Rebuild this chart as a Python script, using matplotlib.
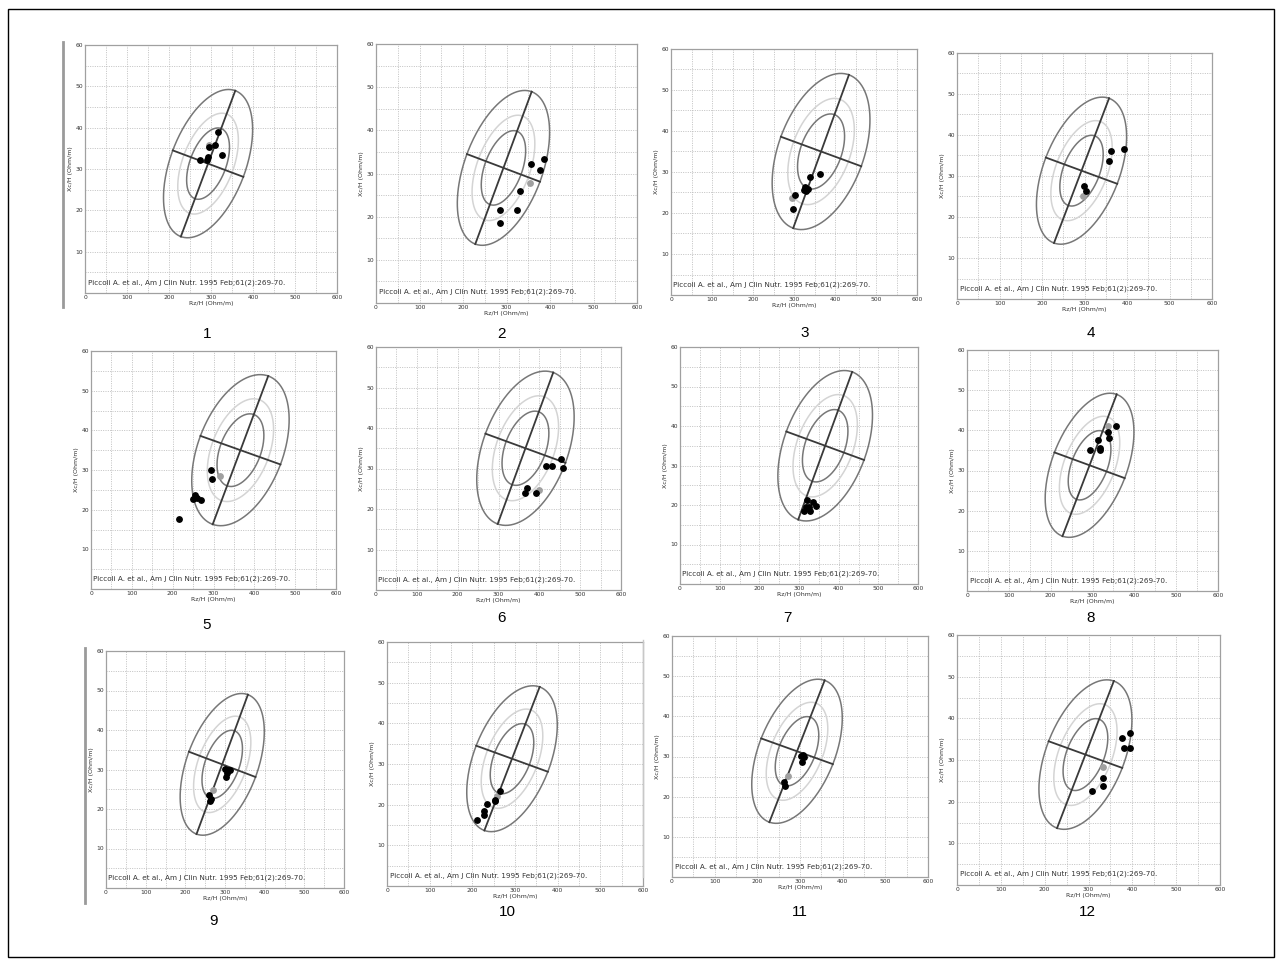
import numpy as np
import matplotlib
matplotlib.use('Agg')
import matplotlib.pyplot as plt
from matplotlib.patches import Rectangle
from matplotlib.lines import Line2D

# ---------------- data ----------------
# reference 95% tolerance ellipses: centre and conjugate half-axes (data units)
refA_center = [293.0, 31.3]
refA_major = [64.8, 17.65]
refA_minor = [84.0, -3.2]
refB_center = [366.0, 35.0]
refB_major = [68.0, 18.7]
refB_minor = [98.0, -3.6]
tolerance_levels = [0.95, 0.75, 0.50]

panel_labels = ['1', '2', '3', '4', '5', '6', '7', '8', '9', '10', '11', '12']
panel_reference = ['A', 'A', 'B', 'A', 'B', 'B', 'B', 'A', 'A', 'A', 'A', 'A']

citation = 'Piccoli A. et al., Am J Clin Nutr. 1995 Feb;61(2):269-70.'
x_label = 'Rz/H (Ohm/m)'
y_label = 'Xc/H (Ohm/m)'
x_ticks = [0, 100, 200, 300, 400, 500, 600]
y_ticks = [10, 20, 30, 40, 50, 60]

# measured points (R/H, Xc/H) per panel, black dots
p1_r = [316, 310, 295, 292, 290, 274, 326]
p1_x = [38.9, 35.9, 35.3, 32.8, 32.2, 32.2, 33.3]
p2_r = [387, 356, 378, 330, 286, 323, 284]
p2_x = [33.4, 32.3, 30.7, 25.9, 21.5, 21.5, 18.5]
p3_r = [363, 339, 327, 330, 325, 335, 302, 297]
p3_x = [29.5, 28.9, 26.4, 25.4, 25.6, 25.8, 24.4, 21.0]
p4_r = [392, 363, 357, 298, 304]
p4_x = [36.7, 36.2, 33.6, 27.5, 26.3]
p5_r = [294, 296, 255, 251, 260, 270, 216]
p5_x = [29.9, 27.8, 23.7, 22.7, 22.9, 22.5, 17.7]
p6_r = [454, 458, 416, 430, 371, 365, 393]
p6_x = [32.3, 30.1, 30.7, 30.7, 25.3, 24.0, 24.0]
p7_r = [321, 336, 318, 326, 343, 313, 328]
p7_x = [21.2, 20.8, 19.5, 19.5, 19.7, 18.6, 18.5]
p8_r = [355, 337, 340, 313, 317, 319, 294]
p8_x = [41.2, 39.6, 38.2, 37.7, 35.6, 35.2, 35.2]
p9_r = [301, 307, 312, 305, 303, 260, 265, 263]
p9_x = [30.2, 30.0, 29.8, 29.1, 28.1, 23.6, 22.6, 22.0]
p10_r = [266, 254, 254, 234, 228, 228, 212]
p10_x = [23.4, 21.2, 20.8, 20.2, 18.4, 17.5, 16.3]
p11_r = [306, 310, 302, 305, 262, 266]
p11_x = [30.3, 29.9, 30.1, 28.7, 23.7, 22.6]
p12_r = [395, 376, 380, 395, 334, 334, 308]
p12_x = [36.4, 35.2, 32.8, 32.8, 25.8, 23.8, 22.6]

# grey (baseline) points per panel
grey_r = [295, 353, 296, 296, 315, 398, 322, 336, 271, 258, 271, 334]
grey_x = [35.8, 27.8, 23.6, 25.2, 28.6, 24.7, 19.9, 41.0, 24.9, 22.2, 25.2, 28.4]

points_r = [p1_r, p2_r, p3_r, p4_r, p5_r, p6_r, p7_r, p8_r, p9_r, p10_r, p11_r, p12_r]
points_x = [p1_x, p2_x, p3_x, p4_x, p5_x, p6_x, p7_x, p8_x, p9_x, p10_x, p11_x, p12_x]

# ---------------- layout (pixel boxes of the plot areas) ----------------
W, H = 1282, 965
boxes = [
    (85, 337, 45, 293), (376, 637, 44, 303), (671, 917, 49, 295), (957, 1212, 53, 299),
    (91, 336, 351, 589), (376, 621, 347, 590), (680, 918, 347, 584), (967, 1218, 350, 591),
    (106, 344, 651, 888), (387, 643, 642, 886), (672, 928, 636, 877), (957, 1220, 635, 885),
]
label_pos = [(207, 334), (501, 334), (805, 333), (1091, 333),
             (207, 625), (502, 618), (787, 618), (1091, 618),
             (213, 921), (507, 912), (800, 912), (1087, 912)]

fig = plt.figure(figsize=(W / 100, H / 100), dpi=100)
fig.patch.set_facecolor('white')

k95 = np.sqrt(-2 * np.log(1 - 0.95))
t = np.linspace(0, 2 * np.pi, 300)

for i in range(12):
    x0, x1, y0, y1 = boxes[i]
    ax = fig.add_axes([x0 / W, 1 - y1 / H, (x1 - x0) / W, (y1 - y0) / H])
    ax.set_xlim(0, 600)
    ax.set_ylim(0, 60)
    for s in ax.spines.values():
        s.set_color('#a0a0a0')
        s.set_linewidth(0.9)
    # grid every 50 / 5
    for gx in range(50, 600, 50):
        ax.axvline(gx, color='#b8b8b8', lw=0.6, ls=(0, (1.2, 1.6)), zorder=1)
    for gy in range(5, 60, 5):
        ax.axhline(gy, color='#b8b8b8', lw=0.6, ls=(0, (1.2, 1.6)), zorder=1)
    ax.set_xticks(x_ticks)
    ax.set_yticks(y_ticks)
    ax.tick_params(length=0, labelsize=4.3, labelcolor='#333333', pad=1.5)
    ax.set_xlabel(x_label, fontsize=4.5, color='#333333', labelpad=1)
    ax.set_ylabel(y_label, fontsize=4.5, color='#333333', labelpad=2)

    if panel_reference[i] == 'A':
        c, U, V = refA_center, refA_major, refA_minor
    else:
        c, U, V = refB_center, refB_major, refB_minor
    for lev in tolerance_levels:
        s = np.sqrt(-2 * np.log(1 - lev)) / k95
        ex = c[0] + s * (U[0] * np.cos(t) + V[0] * np.sin(t))
        ey = c[1] + s * (U[1] * np.cos(t) + V[1] * np.sin(t))
        col = '#d4d4d4' if lev == 0.75 else '#777777'
        ax.plot(ex, ey, color=col, lw=1.1, zorder=2)
    ax.plot([c[0] - U[0], c[0] + U[0]], [c[1] - U[1], c[1] + U[1]], color='#3a3a3a', lw=1.3, zorder=3)
    ax.plot([c[0] - V[0], c[0] + V[0]], [c[1] - V[1], c[1] + V[1]], color='#3a3a3a', lw=1.3, zorder=3)

    ax.plot([grey_r[i]], [grey_x[i]], 'o', color='#a0a0a0', ms=3.9, zorder=4)
    ax.plot(points_r[i], points_x[i], 'o', color='black', ms=3.9, zorder=5)

    ax.text(6, 2.6, citation, fontsize=5.2, color='#333333', va='center', ha='left', zorder=6)

    lx, ly = label_pos[i]
    fig.text(lx / W, 1 - ly / H, panel_labels[i], fontsize=11, ha='center', va='center',
             family=['Liberation Sans', 'DejaVu Sans'])

# screenshot edge bars
fig.add_artist(Line2D([63 / W, 63 / W], [1 - 42 / H, 1 - 307 / H], color='#9a9a9a', lw=2))
fig.add_artist(Line2D([85 / W, 85 / W], [1 - 648 / H, 1 - 903 / H], color='#9a9a9a', lw=2))
fig.add_artist(Line2D([643 / W, 643 / W], [1 - 640 / H, 1 - 877 / H], color='#c8c8c8', lw=1))

# outer frame
fig.add_artist(Rectangle((8 / W, 1 - 957 / H), (1274 - 8) / W, (957 - 9) / H,
                         transform=fig.transFigure, fill=False, ec='black', lw=1))

fig.savefig('out.png', dpi=100)
